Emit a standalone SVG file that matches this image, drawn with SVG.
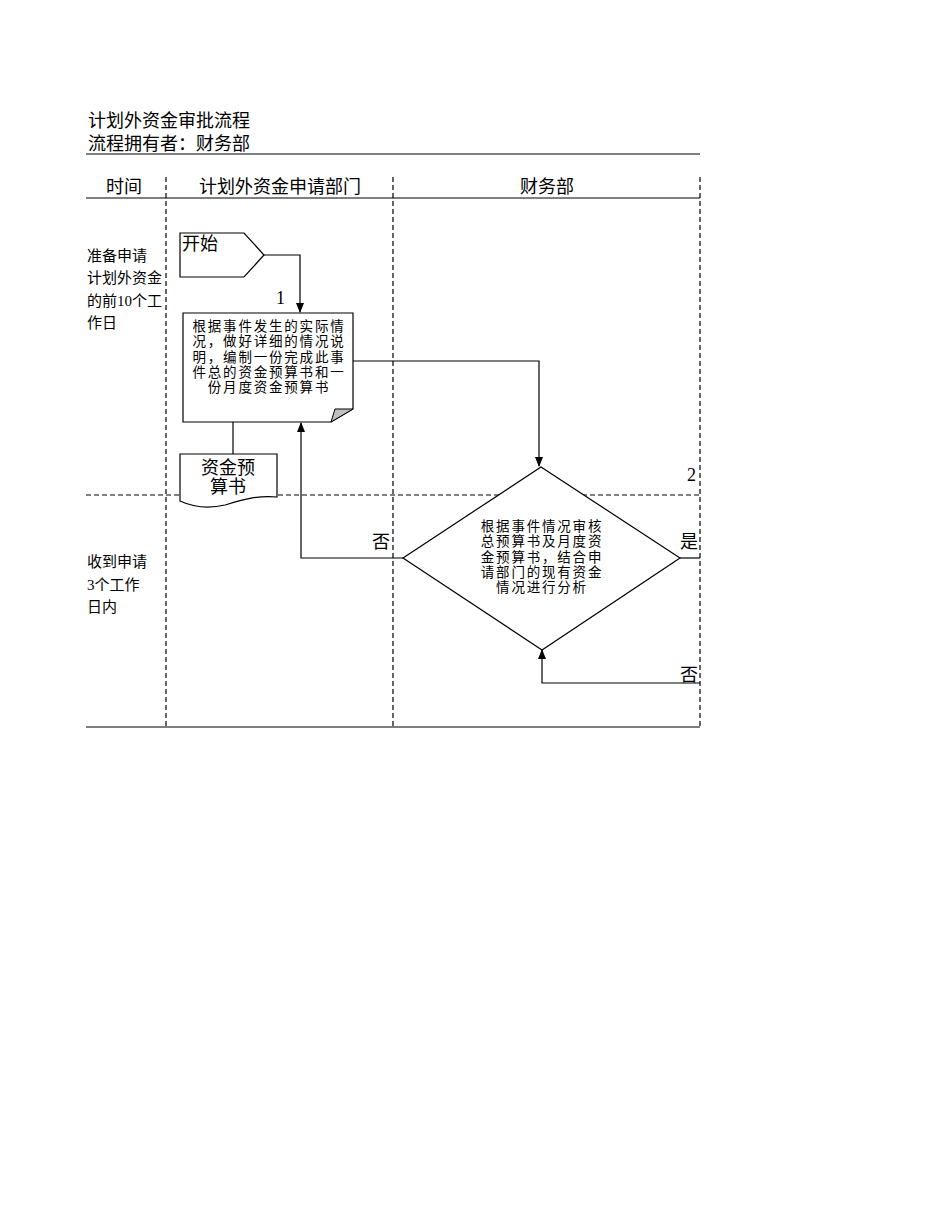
<svg xmlns="http://www.w3.org/2000/svg" width="950" height="1230" viewBox="0 0 950 1230">
<style>
text{font-family:"Liberation Serif","Noto Sans CJK SC",serif;fill:#000}
.t18{font-size:18px}
.t15{font-size:15px}
.t13{font-size:13.5px;letter-spacing:1.8px}
.c{text-anchor:middle}
.solid{stroke:#000;stroke-width:1.2;fill:none}
.dash{stroke:#000;stroke-width:1.2;stroke-dasharray:5,3;fill:none}
.shape{stroke:#000;stroke-width:1.2;fill:#fff}
.conn{stroke:#000;stroke-width:1.2;fill:none}
</style>
<defs>
<marker id="arr" markerWidth="10" markerHeight="10" refX="9" refY="5" orient="auto" markerUnits="userSpaceOnUse">
<path d="M0,1 L10,5 L0,9 Z" fill="#000"/>
</marker>
</defs>
<rect width="950" height="1230" fill="#fff"/>
<g id="header">
<text class="t18" x="88" y="127">计划外资金审批流程</text>
<text class="t18" x="88" y="150">流程拥有者：财务部</text>
<line class="solid" x1="86" y1="154" x2="700" y2="154"/>
<text class="t18 c" x="124" y="193">时间</text>
<text class="t18 c" x="280" y="193">计划外资金申请部门</text>
<text class="t18 c" x="547" y="193">财务部</text>
<line class="solid" x1="86" y1="198" x2="700" y2="198"/>
<line class="dash" x1="166" y1="177" x2="166" y2="727"/>
<line class="dash" x1="393" y1="177" x2="393" y2="727"/>
<line class="dash" x1="700" y1="177" x2="700" y2="727"/>
<line class="dash" x1="86" y1="495" x2="700" y2="495"/>
<line class="solid" x1="86" y1="727" x2="700" y2="727"/>
<text class="t15" x="87" y="261">准备申请</text>
<text class="t15" x="87" y="283">计划外资金</text>
<text class="t15" x="87" y="306">的前10个工</text>
<text class="t15" x="87" y="328">作日</text>
<text class="t15" x="87" y="567">收到申请</text>
<text class="t15" x="87" y="590">3个工作</text>
<text class="t15" x="87" y="612">日内</text>
</g>
<g id="connectors">
<polyline class="conn" points="264,255 300,255 300,312" marker-end="url(#arr)"/>
<text class="t18" x="276" y="304">1</text>
<line class="conn" x1="233" y1="422" x2="233" y2="454"/>
<polyline class="conn" points="353,361 539,361 539,466" marker-end="url(#arr)"/>
<polyline class="conn" points="403,558 301,558 301,423" marker-end="url(#arr)"/>
<text class="t18" x="372" y="548">否</text>
<line class="conn" x1="680" y1="558" x2="700" y2="558"/>
<text class="t18" x="680" y="548">是</text>
<text class="t18" x="687" y="481">2</text>
<polyline class="conn" points="700,683 542,683 542,650" marker-end="url(#arr)"/>
<text class="t18" x="680" y="681">否</text>
</g>
<g id="start">
<path class="shape" d="M180,233 H244 L264,255 L244,277 H180 Z"/>
<text class="t18" x="182" y="250">开始</text>
</g>
<g id="process1">
<path class="shape" d="M183,313 H353 V409 L331,422 H183 Z"/>
<path d="M353,409 L331,422 L335,409 Z" fill="#c0c0c0" stroke="#000" stroke-width="1"/>
<text class="t13 c" x="269" y="331">根据事件发生的实际情</text>
<text class="t13 c" x="269" y="346">况，做好详细的情况说</text>
<text class="t13 c" x="269" y="362">明，编制一份完成此事</text>
<text class="t13 c" x="269" y="377">件总的资金预算书和一</text>
<text class="t13 c" x="269" y="392">份月度资金预算书</text>
</g>
<g id="doc1">
<path class="shape" d="M180,454 H277 V497 C258,495 242,500 225,505 C208,509 193,507 180,501 Z"/>
<text class="t18 c" x="228" y="474">资金预</text>
<text class="t18 c" x="228" y="493">算书</text>
</g>
<g id="decision1">
<path class="shape" d="M541,467 L680,558 L542,650 L403,558 Z"/>
<text class="t13 c" x="542" y="531">根据事件情况审核</text>
<text class="t13 c" x="542" y="546">总预算书及月度资</text>
<text class="t13 c" x="542" y="562">金预算书，结合申</text>
<text class="t13 c" x="542" y="577">请部门的现有资金</text>
<text class="t13 c" x="542" y="592">情况进行分析</text>
</g>
</svg>
